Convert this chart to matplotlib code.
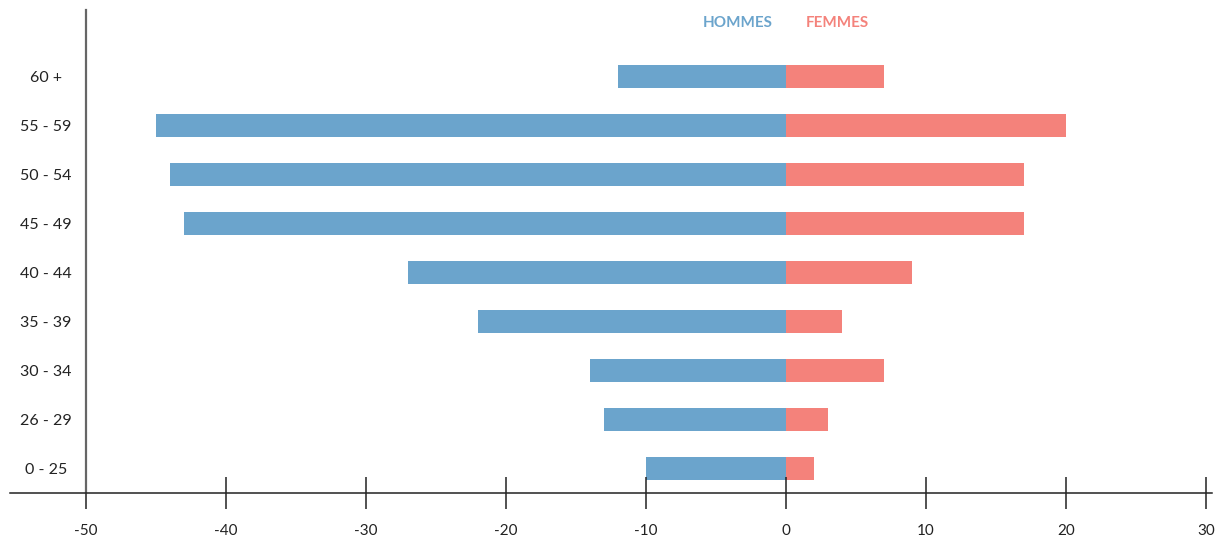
import numpy as np
import matplotlib.pyplot as plt

# DATA ########################################################################

ages = ["0 - 25", "26 - 29", "30 - 34", "35 - 39", "40 - 44",
        "45 - 49", "50 - 54", "55 - 59", "60 +"]
hommes = [10, 13, 14, 22, 27, 43, 44, 45, 12]
femmes = [2, 3, 7, 4, 9, 17, 17, 20, 7]
xticks = [-50, -40, -30, -20, -10, 0, 10, 20, 30]

blue = "#6ba4cc"
pink = "#f4827b"

plt.rcParams['font.family'] = ['Lato', 'DejaVu Sans']

# PLOT ########################################################################

fig = plt.figure(figsize=(12.19, 5.4), dpi=100)
ax = fig.add_axes([10 / 1219, (540 - 493) / 540, 1202 / 1219, 483 / 540])

y = np.arange(len(ages))
ax.barh(y, -np.array(hommes), height=0.47, color=blue)
ax.barh(y, femmes, height=0.47, color=pink)

ax.set_xlim(-55.43, 30.43)
ax.set_ylim(-0.51, 9.35)

ax.spines['top'].set_visible(False)
ax.spines['right'].set_visible(False)
ax.spines['left'].set_position(('data', -50))
ax.spines['left'].set_color('#666666')
ax.spines['left'].set_linewidth(1.6)
ax.spines['bottom'].set_color('#222222')
ax.spines['bottom'].set_linewidth(1.1)

ax.set_xticks(xticks)
ax.set_xticklabels([str(v) for v in xticks])
ax.tick_params(axis='x', direction='inout', length=23, width=1.1,
               color='#222222', labelsize=11, labelcolor='#222222', pad=11)

ax.set_yticks(y)
ax.set_yticklabels(ages, ha='center')
ax.tick_params(axis='y', length=0, pad=29, labelsize=11.5, labelcolor='#222222')

# legend as colored words
fig.text(738 / 1219, 1 - 23 / 540, "HOMMES", color=blue, fontsize=11,
         fontweight='bold', ha='center', va='center')
fig.text(837 / 1219, 1 - 23 / 540, "FEMMES", color=pink, fontsize=11,
         fontweight='bold', ha='center', va='center')

plt.savefig("out.png", dpi=100)
